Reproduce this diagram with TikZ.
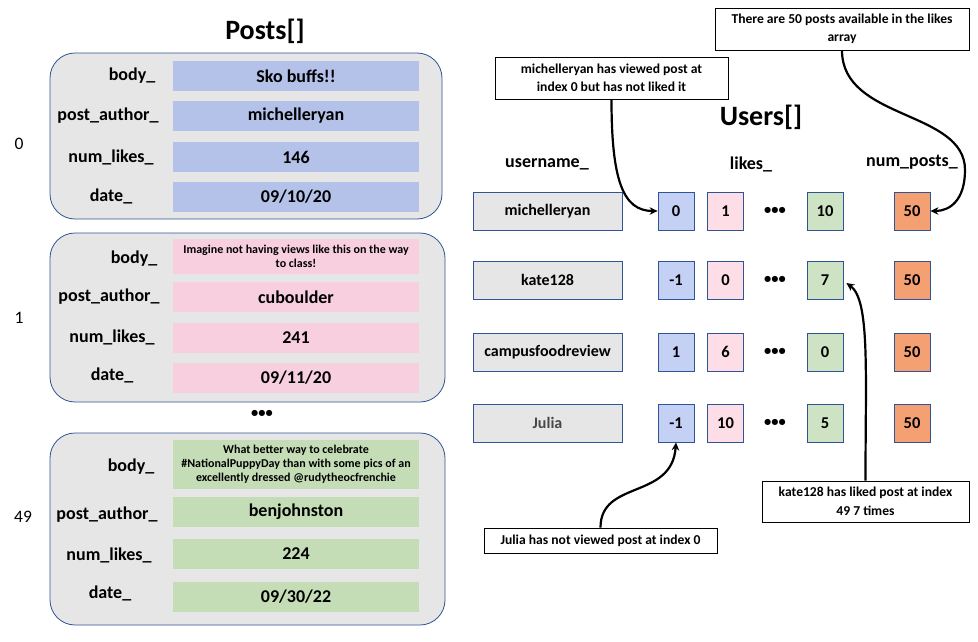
\documentclass[tikz,border=0pt]{standalone}
\usepackage{fontspec}
\setmainfont{Carlito}
\usetikzlibrary{arrows.meta}
\definecolor{gbox}{HTML}{E7E6E6}
\definecolor{bord}{HTML}{2F5597}
\definecolor{pblue}{HTML}{B4C2E9}
\definecolor{ppink}{HTML}{F8CFDE}
\definecolor{pgreen}{HTML}{C5DDB7}
\definecolor{ublue}{HTML}{C5D0F5}
\definecolor{upink}{HTML}{FDDDE6}
\definecolor{ugreen}{HTML}{CDE3C3}
\definecolor{uorange}{HTML}{F4A072}
\tikzset{
 postbox/.style={draw=bord, fill=gbox, rounded corners=25pt, line width=0.8pt, inner sep=0},
 val/.style={minimum width=246pt, minimum height=30pt, inner sep=0, font=\bfseries\fontsize{18}{20}\selectfont, align=center},
 smallval/.style={font=\bfseries\fontsize{12}{14}\selectfont},
 lbl/.style={font=\bfseries\fontsize{18}{20}\selectfont, inner sep=0},
 idx/.style={font=\fontsize{17.5}{20}\selectfont, inner sep=0},
 titletext/.style={font=\bfseries\fontsize{28}{32}\selectfont, inner sep=0},
 hdr/.style={font=\bfseries\fontsize{18}{20}\selectfont, inner sep=0},
 cell/.style={draw=bord, line width=0.8pt, minimum width=36pt, minimum height=38pt, inner sep=0, font=\bfseries\fontsize{16.5}{18}\selectfont},
 uname/.style={cell, fill=gbox, minimum width=149pt, font=\bfseries\fontsize{16}{18}\selectfont},
 dotstext/.style={font=\bfseries\fontsize{14.5}{16}\selectfont, inner sep=0},
 callout/.style={draw=black, line width=0.8pt, fill=white, inner sep=0, align=center, font=\bfseries\fontsize{13.6}{18.5}\selectfont},
 arr/.style={line width=2.2pt, -{Stealth[length=8pt,width=7.5pt]}},
}
\begin{document}
\begin{tikzpicture}[x=1pt,y=-1pt]
\useasboundingbox (0,0) rectangle (978,642);
% ---------- Posts ----------
\node[titletext] (ptitle) at (265,31) {Posts[]};
% post 0
\node[postbox, minimum width=392pt, minimum height=166pt] (p0) at (246,136) {};
\node[val, fill=pblue] (p0b) at (296,76) {Sko buffs!!};
\node[val, fill=pblue] (p0a) at (296,116) {michelleryan};
\node[val, fill=pblue] (p0n) at (296,157) {146};
\node[val, fill=pblue] (p0d) at (296,197) {09/10/20};
\node[lbl] (l0b) at (132,76) {body\_};
\node[lbl] (l0a) at (108,116) {post\_author\_};
\node[lbl] (l0n) at (111,157) {num\_likes\_};
\node[lbl] (l0d) at (111,196) {date\_};
\node[idx] (i0) at (19,144) {0};
% post 1
\node[postbox, minimum width=395pt, minimum height=169pt] (p1) at (247.5,317.5) {};
\node[val, fill=ppink, minimum height=35pt, smallval] (p1b) at (296,256.5) {Imagine not having views like this on the way\\to class!};
\node[val, fill=ppink] (p1a) at (296,297) {cuboulder};
\node[val, fill=ppink] (p1n) at (296,338) {241};
\node[val, fill=ppink] (p1d) at (296,378) {09/11/20};
\node[lbl] (l1b) at (134,259) {body\_};
\node[lbl] (l1a) at (109,297) {post\_author\_};
\node[lbl] (l1n) at (112,337) {num\_likes\_};
\node[lbl] (l1d) at (112,375) {date\_};
\node[idx] (i1) at (19,318) {1};
\node[dotstext] (pdots) at (262,414) {•••};
% post 49
\node[postbox, minimum width=395pt, minimum height=192pt] (p49) at (247.5,529) {};
\node[val, fill=pgreen, minimum height=49pt, smallval] (p49b) at (296,464.5) {What better way to celebrate\\\#NationalPuppyDay than with some pics of an\\excellently dressed @rudytheocfrenchie};
\node[val, fill=pgreen] (p49a) at (296,512) {benjohnston};
\node[val, fill=pgreen] (p49n) at (296,553.5) {224};
\node[val, fill=pgreen] (p49d) at (296,597) {09/30/22};
\node[lbl] (l49b) at (131,467) {body\_};
\node[lbl] (l49a) at (107,515) {post\_author\_};
\node[lbl] (l49n) at (109,555) {num\_likes\_};
\node[lbl] (l49d) at (110,593) {date\_};
\node[idx] (i49) at (23,517) {49};
% ---------- Users ----------
\node[titletext] (utitle) at (761,117) {Users[]};
\node[hdr] (hu) at (547,164) {username\_};
\node[hdr] (hl) at (751,164) {likes\_};
\node[hdr] (hn) at (912,162) {num\_posts\_};
% row 0
\node[uname] (u0) at (547.5,211) {michelleryan};
\node[cell, fill=ublue] (u0b) at (676,211) {0};
\node[cell, fill=upink] (u0p) at (725.5,211) {1};
\node[dotstext] (u0d) at (775,211) {•••};
\node[cell, fill=ugreen] (u0g) at (825,211) {10};
\node[cell, fill=uorange] (u0o) at (912,211) {50};
% row 1
\node[uname] (u1) at (547.5,280) {kate128};
\node[cell, fill=ublue] (u1b) at (676,280) {-1};
\node[cell, fill=upink] (u1p) at (725.5,280) {0};
\node[dotstext] (u1d) at (775,280) {•••};
\node[cell, fill=ugreen] (u1g) at (825,280) {7};
\node[cell, fill=uorange] (u1o) at (912,280) {50};
% row 2
\node[uname] (u2) at (547.5,352) {campusfoodreview};
\node[cell, fill=ublue] (u2b) at (676,352) {1};
\node[cell, fill=upink] (u2p) at (725.5,352) {6};
\node[dotstext] (u2d) at (775,352) {•••};
\node[cell, fill=ugreen] (u2g) at (825,352) {0};
\node[cell, fill=uorange] (u2o) at (912,352) {50};
% row 3
\node[uname, text=black!72] (u3) at (547.5,423) {Julia};
\node[cell, fill=ublue] (u3b) at (676,423) {-1};
\node[cell, fill=upink] (u3p) at (725.5,423) {10};
\node[dotstext] (u3d) at (775,423) {•••};
\node[cell, fill=ugreen] (u3g) at (825,423) {5};
\node[cell, fill=uorange] (u3o) at (912,423) {50};
% ---------- Callouts ----------
\node[callout, minimum width=254pt, minimum height=42pt] (ca) at (842,29) {There are 50 posts available in the likes\\array};
\node[callout, minimum width=233pt, minimum height=42pt] (cb) at (611.5,78) {michelleryan has viewed post at\\index 0 but has not liked it};
\node[callout, minimum width=207pt, minimum height=41pt] (cc) at (865.5,501.5) {kate128 has liked post at index\\49 7 times};
\node[callout, minimum width=233pt, minimum height=25pt] (cd) at (600.5,540.5) {Julia has not viewed post at index 0};
% ---------- Arrows ----------
\draw[arr] (cb.south) .. controls +(0,80) and +(-35,0) .. (u0b.west);
\draw[arr] (ca.south) .. controls +(0,70) and (965,110) .. (965,170) .. controls (965,200) and (950,211) .. (u0o.east);
\coordinate (kt) at ([shift={(3,3)}]u1g.east);
\draw[arr] (cc.north) .. controls +(0,-110) and (870,300) .. (kt);
\draw[arr] (cd.north) .. controls +(0,-48) and (672,500) .. (u3b.south);
\end{tikzpicture}
\end{document}
